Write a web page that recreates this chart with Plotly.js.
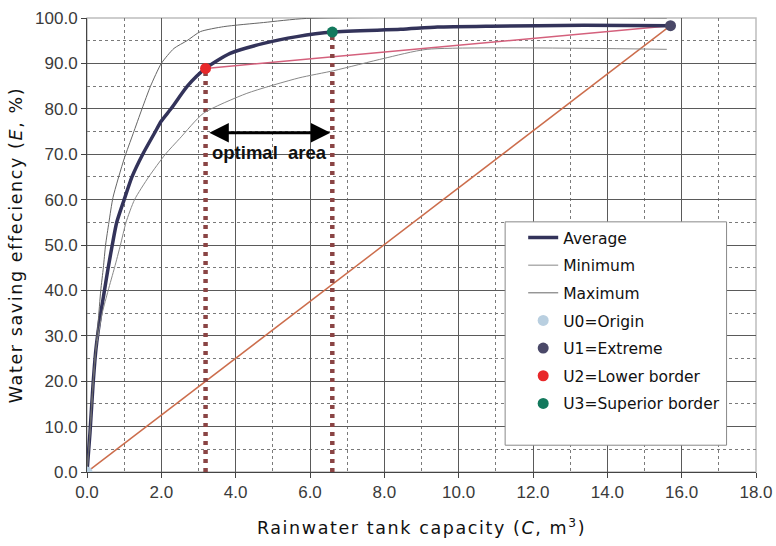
<!DOCTYPE html>
<html>
<head>
<meta charset="utf-8">
<script src="https://cdn.plot.ly/plotly-3.0.1.min.js"></script>
<style>
html,body{margin:0;padding:0;background:#fff;}
#chart{width:776px;height:546px;}
#chart .xtitle, #chart .ytitle{letter-spacing:1.6px;}
</style>
</head>
<body>
<div id="chart"></div>
<script>
// Average curve
const avgX = [0, 0.08, 0.16, 0.24, 0.37, 0.47, 0.57, 0.68, 0.80, 1.0, 1.21, 1.5, 1.84, 2.0, 2.26, 2.7, 3.19, 3.85, 4.75, 5.65, 6.6, 8.44, 9.43, 10.86, 13.37, 15.7];
const avgY = [0, 8.6, 19, 27, 35, 40, 45, 50, 55, 60, 65, 70, 75, 77.3, 80, 85, 88.9, 92.2, 94.4, 95.9, 96.9, 97.5, 98.0, 98.2, 98.4, 98.3];
// Minimum curve
const minX = [0, 0.08, 0.16, 0.24, 0.41, 0.57, 0.74, 0.9, 1.05, 1.28, 1.66, 2.11, 2.5, 3.13, 4.3, 5.7, 6.64, 7.99, 9.15, 15.6];
const minY = [0, 8.6, 19, 27, 35, 40, 45, 50, 55, 60, 65, 70, 73.5, 79.0, 83.4, 86.8, 88.4, 91.1, 93.1, 93.1];
// Maximum curve
const maxX = [0, 0.08, 0.16, 0.24, 0.30, 0.37, 0.44, 0.50, 0.59, 0.70, 1.0, 1.24, 1.48, 1.71, 2.0, 2.34, 2.69, 3.05, 3.68, 4.75, 5.9, 15.6];
const maxY = [0, 8.6, 19, 27.5, 33, 40, 45, 50, 55, 60.5, 69, 74.5, 80, 85, 90, 93.3, 95, 97, 98.1, 99.0, 99.9, 100];
// Key points
const pointNames = ["U0=Origin", "U1=Extreme", "U2=Lower border", "U3=Superior border"];
const pointX = [0, 15.7, 3.19, 6.6];
const pointY = [0, 98.3, 88.9, 96.9];
const pointColors = ["#b9cfe0", "#4a4868", "#e8282a", "#13795d"];
// Axis ticks
const xTicks = [0, 2, 4, 6, 8, 10, 12, 14, 16, 18];
const yTicks = [0, 10, 20, 30, 40, 50, 60, 70, 80, 90, 100];
const xTickText = xTicks.map(v => v.toFixed(1));
const yTickText = yTicks.map(v => v.toFixed(1));
const arrowLabel = "optimal&nbsp;&nbsp;area";

const traces = [];
traces.push({x: [pointX[0], pointX[1]], y: [pointY[0], pointY[1]], mode: 'lines',
  line: {color: '#cc6d4c', width: 1.5}, showlegend: false, hoverinfo: 'skip'});
traces.push({x: [pointX[2], pointX[1]], y: [pointY[2], pointY[1]], mode: 'lines',
  line: {color: '#d4607c', width: 1.5}, showlegend: false, hoverinfo: 'skip'});
[2, 3].forEach(i => {
  traces.push({x: [pointX[i], pointX[i]], y: [0, pointY[i]], mode: 'lines',
    line: {color: '#8a4444', width: 4.5, dash: '4px,5px'}, showlegend: false, hoverinfo: 'skip'});
});
traces.push({x: avgX, y: avgY, mode: 'lines', name: 'Average', legendgroup: 'a',
  line: {color: '#33335a', width: 3.5, shape: 'spline', smoothing: 0.6}});
traces.push({x: minX, y: minY, mode: 'lines', name: 'Minimum', legendgroup: 'b',
  line: {color: '#888888', width: 1, shape: 'spline', smoothing: 0.6}});
traces.push({x: maxX, y: maxY, mode: 'lines', name: 'Maximum', legendgroup: 'c',
  line: {color: '#666666', width: 1, shape: 'spline', smoothing: 0.6}});
pointNames.forEach((n, i) => {
  traces.push({x: [pointX[i]], y: [pointY[i]], mode: 'markers', name: n, legendgroup: 'p' + i,
    marker: {color: pointColors[i], size: 11}});
});

const gridMajor = '#5a5a5a';
const gridMinor = '#7a7a7a';
const tickFont = {family: 'Liberation Sans, Arial, sans-serif', size: 17, color: '#3a3a3a'};
const titleFont = {family: 'DejaVu Sans, sans-serif', size: 17.5, color: '#111'};

const layout = {
  width: 776, height: 546,
  margin: {l: 87, r: 20, t: 18, b: 74},
  paper_bgcolor: '#fff', plot_bgcolor: '#fff',
  showlegend: true,
  legend: {x: 0.652, y: 0.553, xanchor: 'left', yanchor: 'top', bgcolor: 'rgba(0,0,0,0)',
    borderwidth: 0, tracegroupgap: 4.5,
    font: {family: 'DejaVu Sans, sans-serif', size: 15.5, color: '#111'}},
  xaxis: {range: [0, 18], tickvals: xTicks, ticktext: xTickText, tickfont: tickFont,
    showgrid: true, gridcolor: gridMajor, gridwidth: 1,
    minor: {dtick: 1, showgrid: true, gridcolor: gridMinor, griddash: 'dot', gridwidth: 1},
    showline: true, linecolor: '#444', linewidth: 1, ticks: 'outside', ticklen: 5, tickcolor: '#444',
    zeroline: false, fixedrange: true,
    title: {text: 'Rainwater tank capacity (<i>C</i>, m<sup>3</sup>)', font: titleFont, standoff: 20}},
  yaxis: {range: [0, 100], tickvals: yTicks, ticktext: yTickText, tickfont: tickFont,
    showgrid: true, gridcolor: gridMajor, gridwidth: 1,
    minor: {dtick: 5, showgrid: true, gridcolor: gridMinor, griddash: 'dot', gridwidth: 1},
    showline: true, linecolor: '#444', linewidth: 1, ticks: 'outside', ticklen: 5, tickcolor: '#444',
    zeroline: false, fixedrange: true,
    title: {text: 'Water saving effeciency (<i>E</i>, %)', font: titleFont, standoff: 7}},
  shapes: [
    {type: 'rect', xref: 'paper', yref: 'paper', x0: 0, x1: 1, y0: 0, y1: 1,
      line: {color: '#bdbdbd', width: 1.5}, layer: 'below'},
    {type: 'rect', xref: 'paper', yref: 'paper', x0: 0.625, x1: 0.956, y0: 0.059, y1: 0.551,
      line: {color: '#888', width: 1}, fillcolor: '#fff', layer: 'above'}
  ],
  annotations: [
    {x: 6.55, y: 74.7, ax: 3.25, ay: 74.7, xref: 'x', yref: 'y', axref: 'x', ayref: 'y',
      text: '', showarrow: true, arrowhead: 2, arrowside: 'end+start', arrowsize: 1.3,
      arrowwidth: 3, arrowcolor: '#000'},
    {x: 4.92, y: 70.3, xref: 'x', yref: 'y', text: '<b>' + arrowLabel + '</b>', showarrow: false,
      font: {family: 'Liberation Sans, Arial, sans-serif', size: 18.5, color: '#111'}}
  ]
};

Plotly.newPlot('chart', traces, layout, {displayModeBar: false, staticPlot: true});
</script>
</body>
</html>
